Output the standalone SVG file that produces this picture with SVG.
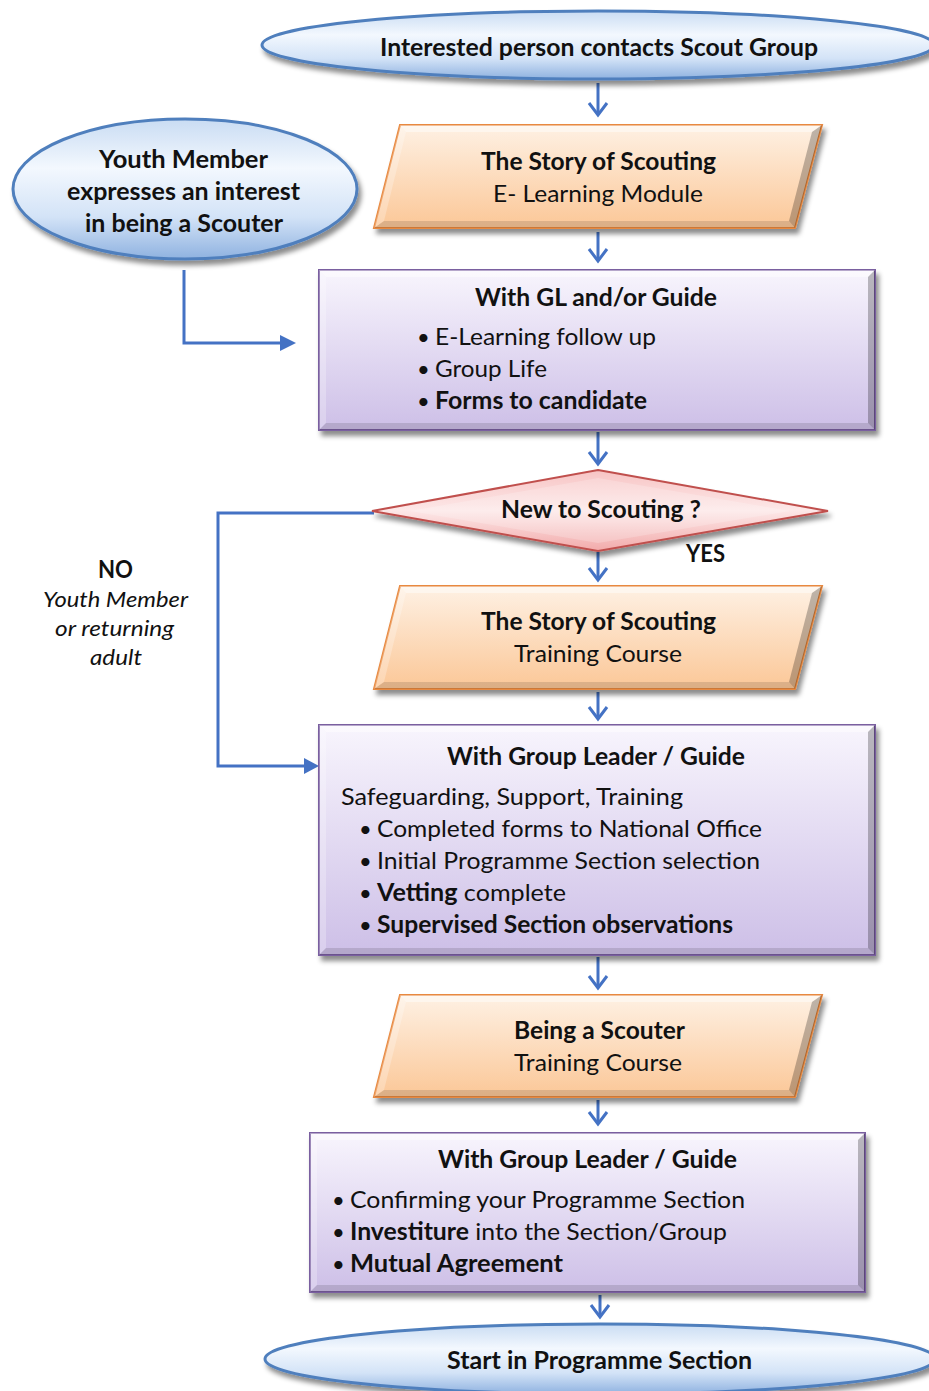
<svg xmlns="http://www.w3.org/2000/svg" width="929" height="1391" viewBox="0 0 929 1391">
<style>
.t{font-family:Lato,"Liberation Sans",sans-serif;font-size:24px;fill:#111}
.b{font-weight:bold}
.c{text-anchor:middle}
.i{font-style:italic;font-size:22px}
.bu{font-family:Lato,"Liberation Sans",sans-serif;font-size:22px;fill:#111}
.ell{fill:url(#gBlue);stroke:#4f7fbd;stroke-width:3;filter:url(#sh)}
.par{fill:url(#gOrange);stroke:#e8893f;stroke-width:2;filter:url(#sh)}
.box{fill:url(#gPurple);stroke:#7a5fa0;stroke-width:2;filter:url(#sh)}
.dia{fill:url(#gPink);stroke:#c0504d;stroke-width:2;filter:url(#sh)}
.lt{fill:#fff;opacity:0.45}
.lt2{fill:#fff;opacity:0.25}
.dk{fill:#000;opacity:0.12}
.dk2{fill:#000;opacity:0.25}
.ln{fill:none;stroke:#4472c4;stroke-width:3}
.hd{fill:none;stroke:#4472c4;stroke-width:3;stroke-linejoin:miter}
.tri{fill:#4472c4}
</style>
<defs>
<filter id="sh" x="-10%" y="-20%" width="125%" height="150%">
<feDropShadow dx="3" dy="5" stdDeviation="2.5" flood-color="#000" flood-opacity="0.45"/>
</filter>
<linearGradient id="gBlue" x1="0" y1="0" x2="0" y2="1">
<stop offset="0" stop-color="#c9dcf3"/>
<stop offset="0.35" stop-color="#f3f8fe"/>
<stop offset="0.7" stop-color="#d3e3f7"/>
<stop offset="1" stop-color="#8fb2e0"/>
</linearGradient>
<linearGradient id="gOrange" x1="0" y1="0" x2="0" y2="1">
<stop offset="0" stop-color="#fef1e4"/>
<stop offset="1" stop-color="#fbc797"/>
</linearGradient>
<linearGradient id="gPurple" x1="0" y1="0" x2="0" y2="1">
<stop offset="0" stop-color="#f8f5fd"/>
<stop offset="1" stop-color="#cdbfe7"/>
</linearGradient>
<linearGradient id="gPink" x1="0" y1="0" x2="0" y2="1">
<stop offset="0" stop-color="#f7c4c4"/>
<stop offset="0.5" stop-color="#fde8e8"/>
<stop offset="1" stop-color="#f2aaaa"/>
</linearGradient>
</defs>
<rect width="929" height="1391" fill="#fff"/>

<g id="connectors">
<path class="ln" d="M598,83 V115"/><path class="hd" d="M589,103 L598,115 L607,103"/>
<path class="ln" d="M598,232 V261"/><path class="hd" d="M589,249 L598,261 L607,249"/>
<path class="ln" d="M598,432 V464"/><path class="hd" d="M589,452 L598,464 L607,452"/>
<path class="ln" d="M598,552 V580"/><path class="hd" d="M589,568 L598,580 L607,568"/>
<path class="ln" d="M598,692 V719"/><path class="hd" d="M589,707 L598,719 L607,707"/>
<path class="ln" d="M598,957 V988"/><path class="hd" d="M589,976 L598,988 L607,976"/>
<path class="ln" d="M598,1100 V1124"/><path class="hd" d="M589,1112 L598,1124 L607,1112"/>
<path class="ln" d="M600,1295 V1317"/><path class="hd" d="M591,1305 L600,1317 L609,1305"/>
<path class="ln" d="M184,270 V343 H282"/><path class="tri" d="M280,335 L296,343 L280,351 Z"/>
<path class="ln" d="M374,513 H218 V766 H306"/><path class="tri" d="M304,758 L319,766 L304,774 Z"/>
</g>

<g id="n-start">
<ellipse class="ell" cx="598" cy="45" rx="336" ry="34"/>
<text class="t b c" x="599" y="56" textLength="438" lengthAdjust="spacingAndGlyphs">Interested person contacts Scout Group</text>
</g>

<g id="n-youth">
<ellipse class="ell" cx="185" cy="189" rx="172" ry="70"/>
<text class="t b c" x="183.5" y="168" textLength="169" lengthAdjust="spacingAndGlyphs">Youth Member</text>
<text class="t b c" x="183.5" y="200" textLength="233" lengthAdjust="spacingAndGlyphs">expresses an interest</text>
<text class="t b c" x="184" y="232" textLength="198" lengthAdjust="spacingAndGlyphs">in being a Scouter</text>
</g>

<g id="n-story1">
<path class="par" d="M400,125 H822 L795,228 H374 Z"/>
<path class="lt" d="M400,125 H822 L812,132 H406 Z"/>
<path class="lt2" d="M400,125 L406,132 L384,221 L374,228 Z"/>
<path class="dk2" d="M822,125 L795,228 L789,221 L812,132 Z"/>
<path class="dk" d="M374,228 H795 L789,221 H384 Z"/>
<text class="t b c" x="598.5" y="170" textLength="235" lengthAdjust="spacingAndGlyphs">The Story of Scouting</text>
<text class="t c" x="598" y="202" textLength="210" lengthAdjust="spacingAndGlyphs">E- Learning Module</text>
</g>

<g id="n-gl1">
<rect class="box" x="319" y="270" width="556" height="160"/>
<path class="lt" d="M319,270 H875 L868,277 H326 Z"/>
<path class="lt2" d="M319,270 L326,277 V423 L319,430 Z"/>
<path class="dk2" d="M875,270 V430 L868,423 V277 Z"/>
<path class="dk" d="M319,430 H875 L868,423 H326 Z"/>
<text class="t b c" x="596" y="306" textLength="242" lengthAdjust="spacingAndGlyphs">With GL and/or Guide</text>
<text class="bu" x="417" y="345">•</text>
<text class="t" x="435" y="345" textLength="221" lengthAdjust="spacingAndGlyphs">E-Learning follow up</text>
<text class="bu" x="417" y="377">•</text>
<text class="t" x="435" y="377" textLength="112" lengthAdjust="spacingAndGlyphs">Group Life</text>
<text class="bu" x="417" y="409">•</text>
<text class="t b" x="435" y="409" textLength="212" lengthAdjust="spacingAndGlyphs">Forms to candidate</text>
</g>

<g id="n-decision">
<path class="dia" d="M598,470 L828,511 L598,551 L372,511 Z"/>
<path d="M598,478 L790,511 L598,543 L410,511 Z" fill="#fff" opacity="0.2"/>
<text class="t b c" x="601" y="518" textLength="200" lengthAdjust="spacingAndGlyphs">New to Scouting ?</text>
</g>

<g id="l-yes">
<text class="t b" x="686" y="562" textLength="39" lengthAdjust="spacingAndGlyphs">YES</text>
</g>

<g id="l-no">
<text class="t b c" x="115.5" y="578" textLength="35" lengthAdjust="spacingAndGlyphs">NO</text>
<text class="t i c" x="115.5" y="607" textLength="145" lengthAdjust="spacingAndGlyphs">Youth Member</text>
<text class="t i c" x="114.5" y="636" textLength="119" lengthAdjust="spacingAndGlyphs">or returning</text>
<text class="t i c" x="116" y="665" textLength="52" lengthAdjust="spacingAndGlyphs">adult</text>
</g>

<g id="n-story2">
<path class="par" d="M400,586 H822 L795,689 H374 Z"/>
<path class="lt" d="M400,586 H822 L812,593 H406 Z"/>
<path class="lt2" d="M400,586 L406,593 L384,682 L374,689 Z"/>
<path class="dk2" d="M822,586 L795,689 L789,682 L812,593 Z"/>
<path class="dk" d="M374,689 H795 L789,682 H384 Z"/>
<text class="t b c" x="598.5" y="630" textLength="235" lengthAdjust="spacingAndGlyphs">The Story of Scouting</text>
<text class="t c" x="598" y="662" textLength="168" lengthAdjust="spacingAndGlyphs">Training Course</text>
</g>

<g id="n-gl2">
<rect class="box" x="319" y="725" width="556" height="230"/>
<path class="lt" d="M319,725 H875 L868,732 H326 Z"/>
<path class="lt2" d="M319,725 L326,732 V948 L319,955 Z"/>
<path class="dk2" d="M875,725 V955 L868,948 V732 Z"/>
<path class="dk" d="M319,955 H875 L868,948 H326 Z"/>
<text class="t b c" x="596" y="765" textLength="298" lengthAdjust="spacingAndGlyphs">With Group Leader / Guide</text>
<text class="t" x="341" y="805" textLength="342" lengthAdjust="spacingAndGlyphs">Safeguarding, Support, Training</text>
<text class="bu" x="359" y="837">•</text>
<text class="t" x="377" y="837" textLength="385" lengthAdjust="spacingAndGlyphs">Completed forms to National Office</text>
<text class="bu" x="359" y="869">•</text>
<text class="t" x="377" y="869" textLength="383" lengthAdjust="spacingAndGlyphs">Initial Programme Section selection</text>
<text class="bu" x="359" y="901">•</text>
<text class="t" x="377" y="901" textLength="189" lengthAdjust="spacingAndGlyphs"><tspan class="b">Vetting</tspan> complete</text>
<text class="bu" x="359" y="933">•</text>
<text class="t b" x="377" y="933" textLength="356" lengthAdjust="spacingAndGlyphs">Supervised Section observations</text>
</g>

<g id="n-being">
<path class="par" d="M400,995 H822 L795,1097 H374 Z"/>
<path class="lt" d="M400,995 H822 L812,1002 H406 Z"/>
<path class="lt2" d="M400,995 L406,1002 L384,1090 L374,1097 Z"/>
<path class="dk2" d="M822,995 L795,1097 L789,1090 L812,1002 Z"/>
<path class="dk" d="M374,1097 H795 L789,1090 H384 Z"/>
<text class="t b c" x="599.5" y="1039" textLength="171" lengthAdjust="spacingAndGlyphs">Being a Scouter</text>
<text class="t c" x="598" y="1071" textLength="168" lengthAdjust="spacingAndGlyphs">Training Course</text>
</g>

<g id="n-gl3">
<rect class="box" x="310" y="1133" width="555" height="159"/>
<path class="lt" d="M310,1133 H865 L858,1140 H317 Z"/>
<path class="lt2" d="M310,1133 L317,1140 V1285 L310,1292 Z"/>
<path class="dk2" d="M865,1133 V1292 L858,1285 V1140 Z"/>
<path class="dk" d="M310,1292 H865 L858,1285 H317 Z"/>
<text class="t b c" x="587.5" y="1168" textLength="299" lengthAdjust="spacingAndGlyphs">With Group Leader / Guide</text>
<text class="bu" x="332" y="1208">•</text>
<text class="t" x="350" y="1208" textLength="395" lengthAdjust="spacingAndGlyphs">Confirming your Programme Section</text>
<text class="bu" x="332" y="1240">•</text>
<text class="t" x="350" y="1240" textLength="377" lengthAdjust="spacingAndGlyphs"><tspan class="b">Investiture</tspan> into the Section/Group</text>
<text class="bu" x="332" y="1272">•</text>
<text class="t b" x="350" y="1272" textLength="213" lengthAdjust="spacingAndGlyphs">Mutual Agreement</text>
</g>

<g id="n-end">
<ellipse class="ell" cx="600" cy="1359" rx="335" ry="35"/>
<text class="t b c" x="599.5" y="1369" textLength="305" lengthAdjust="spacingAndGlyphs">Start in Programme Section</text>
</g>
</svg>
